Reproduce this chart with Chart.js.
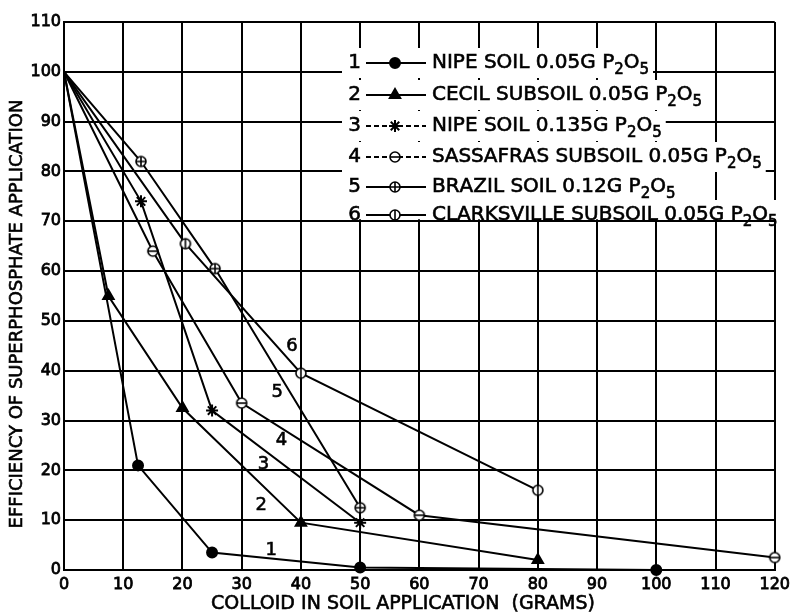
<!DOCTYPE html>
<html>
<head>
<meta charset="utf-8">
<title>Efficiency of superphosphate application</title>
<script src="https://cdn.jsdelivr.net/npm/chart.js@4/dist/chart.umd.min.js"></script>
<style>
  html, body { margin: 0; padding: 0; background: #fff; }
  canvas { display: block; }
</style>
</head>
<body>
<canvas id="chart" width="795" height="615"></canvas>
<script>
// values (grams of colloid vs. efficiency %)
const seriesLabels = [
  "NIPE SOIL 0.05G P\u2082O\u2085",
  "CECIL SUBSOIL 0.05G P\u2082O\u2085",
  "NIPE SOIL 0.135G P\u2082O\u2085",
  "SASSAFRAS SUBSOIL 0.05G P\u2082O\u2085",
  "BRAZIL SOIL 0.12G P\u2082O\u2085",
  "CLARKSVILLE SUBSOIL 0.05G P\u2082O\u2085"
];
const curveNumbers = ["1", "2", "3", "4", "5", "6"];

const nipe05X = [0, 12.5, 25, 50, 100];
const nipe05Y = [100, 21, 3.5, 0.5, 0];
const cecilX = [0, 7.5, 20, 40, 80];
const cecilY = [100, 55, 32.5, 9.5, 2];
const nipe135X = [0, 13, 25, 50];
const nipe135Y = [100, 74, 32, 9.5];
const sassafrasX = [0, 15, 30, 60, 120];
const sassafrasY = [100, 64, 33.5, 11, 2.5];
const brazilX = [0, 13, 25.5, 50];
const brazilY = [100, 82, 60.5, 12.5];
const clarksvilleX = [0, 20.5, 40, 80];
const clarksvilleY = [100, 65.5, 39.5, 16];

const xTicks = [0, 10, 20, 30, 40, 50, 60, 70, 80, 90, 100, 110, 120];
const yTicks = [0, 10, 20, 30, 40, 50, 60, 70, 80, 90, 100, 110];

// spots of the small curve numbers, in data units
const numberX = [35, 33.3, 33.7, 36.7, 36, 38.5];
const numberY = [4, 13, 21.3, 26.1, 35.7, 44.8];

const FONT = '"DejaVu Sans", sans-serif';

function openMarker(kind) {
  const c = document.createElement('canvas');
  c.width = 14; c.height = 14;
  const g = c.getContext('2d');
  g.lineWidth = 1.6;
  g.strokeStyle = '#000';
  g.fillStyle = '#fff';
  g.beginPath(); g.arc(7, 7, 5, 0, Math.PI * 2); g.fill(); g.stroke();
  g.beginPath();
  if (kind === 'h' || kind === '+') { g.moveTo(2, 7); g.lineTo(12, 7); }
  if (kind === 'v' || kind === '+') { g.moveTo(7, 2); g.lineTo(7, 12); }
  g.stroke();
  return c;
}

const markers = [
  { style: 'circle', radius: 5 },
  { style: 'triangle', radius: 6 },
  { style: 'star', radius: 6 },
  { style: openMarker('h'), radius: 6 },
  { style: openMarker('+'), radius: 6 },
  { style: openMarker('v'), radius: 6 }
];

function series(xs, ys, i) {
  const m = markers[i];
  return {
    label: seriesLabels[i],
    data: xs.map((x, k) => ({ x: x, y: ys[k] })),
    showLine: true,
    borderColor: '#000',
    backgroundColor: '#000',
    borderWidth: 2,
    tension: 0,
    pointStyle: m.style,
    pointRadius: xs.map((x, k) => k === 0 ? 0 : m.radius),
    pointBorderColor: '#000',
    pointBackgroundColor: '#000',
    pointBorderWidth: 2,
    clip: false
  };
}

// filled text with a thin outline so the lettering looks inked
function ink(ctx, t, x, y) {
  ctx.fillText(t, x, y);
  ctx.strokeText(t, x, y);
}

// text with the P2O5 subscripts lowered and shrunk
const SUBS = { '\u2082': '2', '\u2085': '5' };
function drawLabel(ctx, text, x, y, size, dry) {
  let cx = x;
  for (const ch of text) {
    const s = SUBS[ch];
    ctx.font = (s ? Math.round(size * 0.75) : size) + 'px ' + FONT;
    const c = s || ch;
    if (!dry) ink(ctx, c, cx, s ? y + size * 0.38 : y);
    cx += ctx.measureText(c).width;
  }
  return cx - x;
}

// legend, curve numbers and axis titles drawn over the plot
const overlay = {
  id: 'overlay',
  afterDraw(chart) {
    const ctx = chart.ctx;
    const xs = chart.scales.x, ys = chart.scales.y;
    ctx.save();
    ctx.fillStyle = '#000';
    ctx.strokeStyle = '#000';
    ctx.textBaseline = 'middle';
    ctx.lineWidth = 0.6;

    ctx.font = '18px ' + FONT;
    ctx.textAlign = 'center';
    curveNumbers.forEach((n, i) => {
      ink(ctx, n, xs.getPixelForValue(numberX[i]), ys.getPixelForValue(numberY[i]));
    });

    const rowY = [63, 95, 126, 157, 187, 215];
    const limit = ys.getPixelForValue(70) - 2;
    const size = 20;
    seriesLabels.forEach((label, i) => {
      const y = rowY[i];
      ctx.textAlign = 'left';
      const w = drawLabel(ctx, label, 432, y, size, true);
      ctx.fillStyle = '#fff';
      const top = y - 15, bottom = Math.min(y + 15, limit);
      ctx.fillRect(342, top, 432 + w + 4 - 342, bottom - top);
      ctx.fillStyle = '#000';
      ctx.lineWidth = 0.6;
      drawLabel(ctx, label, 432, y, size, false);
      ctx.font = size + 'px ' + FONT;
      ctx.textAlign = 'right';
      ink(ctx, curveNumbers[i], 361, y);
      ctx.lineWidth = 2;
      ctx.setLineDash(i === 2 || i === 3 ? [5, 3] : []);
      ctx.beginPath(); ctx.moveTo(366, y); ctx.lineTo(426, y); ctx.stroke();
      ctx.setLineDash([]);
      const m = markers[i];
      Chart.helpers.drawPoint(ctx, { pointStyle: m.style, radius: m.radius, rotation: 0, borderWidth: 2 }, 395, y);
    });

    ctx.lineWidth = 0.6;
    ctx.textAlign = 'center';
    ctx.font = '19px ' + FONT;
    ink(ctx, 'COLLOID IN SOIL APPLICATION  (GRAMS)', 403, 604);
    ctx.translate(17, 314);
    ctx.rotate(-Math.PI / 2);
    ctx.font = '18px ' + FONT;
    ink(ctx, 'EFFICIENCY OF SUPERPHOSPHATE APPLICATION', 0, 0);
    ctx.restore();
  }
};

new Chart(document.getElementById('chart'), {
  type: 'scatter',
  data: {
    datasets: [
      series(nipe05X, nipe05Y, 0),
      series(cecilX, cecilY, 1),
      series(nipe135X, nipe135Y, 2),
      series(sassafrasX, sassafrasY, 3),
      series(brazilX, brazilY, 4),
      series(clarksvilleX, clarksvilleY, 5)
    ]
  },
  options: {
    responsive: false,
    animation: false,
    layout: { padding: { top: 22, right: 15, left: 0, bottom: 0 } },
    plugins: { legend: { display: false }, tooltip: { enabled: false } },
    scales: {
      x: {
        type: 'linear',
        min: 0,
        max: 120,
        afterBuildTicks: (s) => { s.ticks = xTicks.map((v) => ({ value: v })); },
        afterFit: (s) => { s.height = 45; },
        grid: { color: '#000', lineWidth: 2, drawTicks: false },
        border: { color: '#000', width: 2 },
        ticks: {
          color: '#000', padding: 5, maxRotation: 0,
          textStrokeColor: '#000', textStrokeWidth: 0.8,
          font: { family: FONT, size: 16 }
        }
      },
      y: {
        type: 'linear',
        min: 0,
        max: 110,
        afterBuildTicks: (s) => { s.ticks = yTicks.map((v) => ({ value: v })); },
        afterFit: (s) => { s.width = 64; },
        grid: { color: '#000', lineWidth: 2, drawTicks: false },
        border: { color: '#000', width: 2 },
        ticks: {
          color: '#000', padding: 3,
          textStrokeColor: '#000', textStrokeWidth: 0.8,
          font: { family: FONT, size: 16 }
        }
      }
    }
  },
  plugins: [overlay]
});
</script>
</body>
</html>
